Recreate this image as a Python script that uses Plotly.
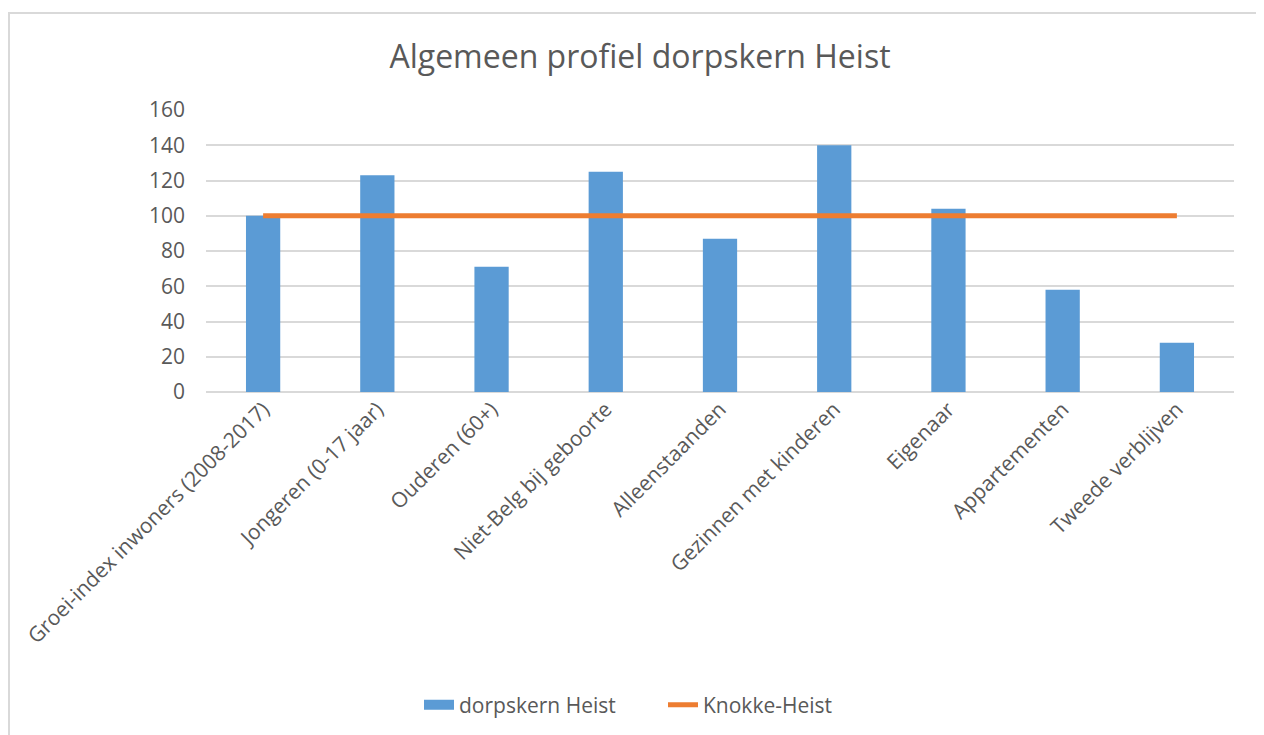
import plotly.graph_objects as go

categories = [
    "Groei-index inwoners (2008-2017)",
    "Jongeren (0-17 jaar)",
    "Ouderen (60+)",
    "Niet-Belg bij geboorte",
    "Alleenstaanden",
    "Gezinnen met kinderen",
    "Eigenaar",
    "Appartementen",
    "Tweede verblijven",
]
dorpskern_heist = [100, 123, 71, 125, 87, 140, 104, 58, 28]
knokke_heist = [100, 100, 100, 100, 100, 100, 100, 100, 100]

W, H = 1264, 735
L, R, T, B = 198, 38, 102, 351
pw, ph = W - L - R, H - T - B

def px_x(x):
    return (x - L) / pw

def px_y(y):
    return (H - B - y) / ph

font = "Open Sans"
grey = "#595959"
blue = "#5B9BD5"

fig = go.Figure()
fig.add_trace(go.Bar(
    x=categories, y=dorpskern_heist, name="dorpskern Heist",
    marker=dict(color=blue, line=dict(width=0)), showlegend=False,
))
# legend entry for the bars drawn as a wide rectangle like the original
fig.add_trace(go.Scatter(
    x=[None], y=[None], name="dorpskern Heist", mode="lines",
    line=dict(color=blue, width=14), showlegend=True,
))
fig.add_trace(go.Scatter(
    x=categories, y=knokke_heist, name="Knokke-Heist", mode="lines",
    line=dict(color="#ED7D31", width=5),
))

fig.add_shape(type="rect", xref="paper", yref="paper",
              x0=px_x(1), x1=px_x(1254), y0=px_y(745), y1=px_y(5),
              line=dict(color="#D9D9D9", width=2), fillcolor="rgba(0,0,0,0)",
              layer="below")

fig.update_layout(
    width=W, height=H,
    margin=dict(l=L, r=R, t=T, b=B, autoexpand=False),
    paper_bgcolor="white", plot_bgcolor="white",
    bargap=0.7,
    title=dict(text="Algemeen profiel dorpskern Heist", x=0.5, xref="container",
               y=1 - 49 / H, yanchor="middle", yref="container",
               font=dict(family=font, size=32, color=grey)),
    font=dict(family=font, color=grey, size=21),
    showlegend=True,
    legend=dict(orientation="h", x=px_x(655), xanchor="center",
                y=px_y(697), yanchor="middle", entrywidth=199,
                font=dict(family=font, size=21, color=grey)),
    xaxis=dict(tickangle=-45, tickfont=dict(family=font, size=21, color=grey),
               showgrid=False, showline=False, ticks=""),
    yaxis=dict(range=[0, 160], dtick=20, tickfont=dict(family=font, size=21, color=grey),
               showgrid=True, gridcolor="#D9D9D9", gridwidth=1.5,
               zeroline=True, zerolinecolor="#D9D9D9", zerolinewidth=1.5,
               showline=False, ticks="", ticklabelstandoff=20),
)

fig.write_html("out.html")
